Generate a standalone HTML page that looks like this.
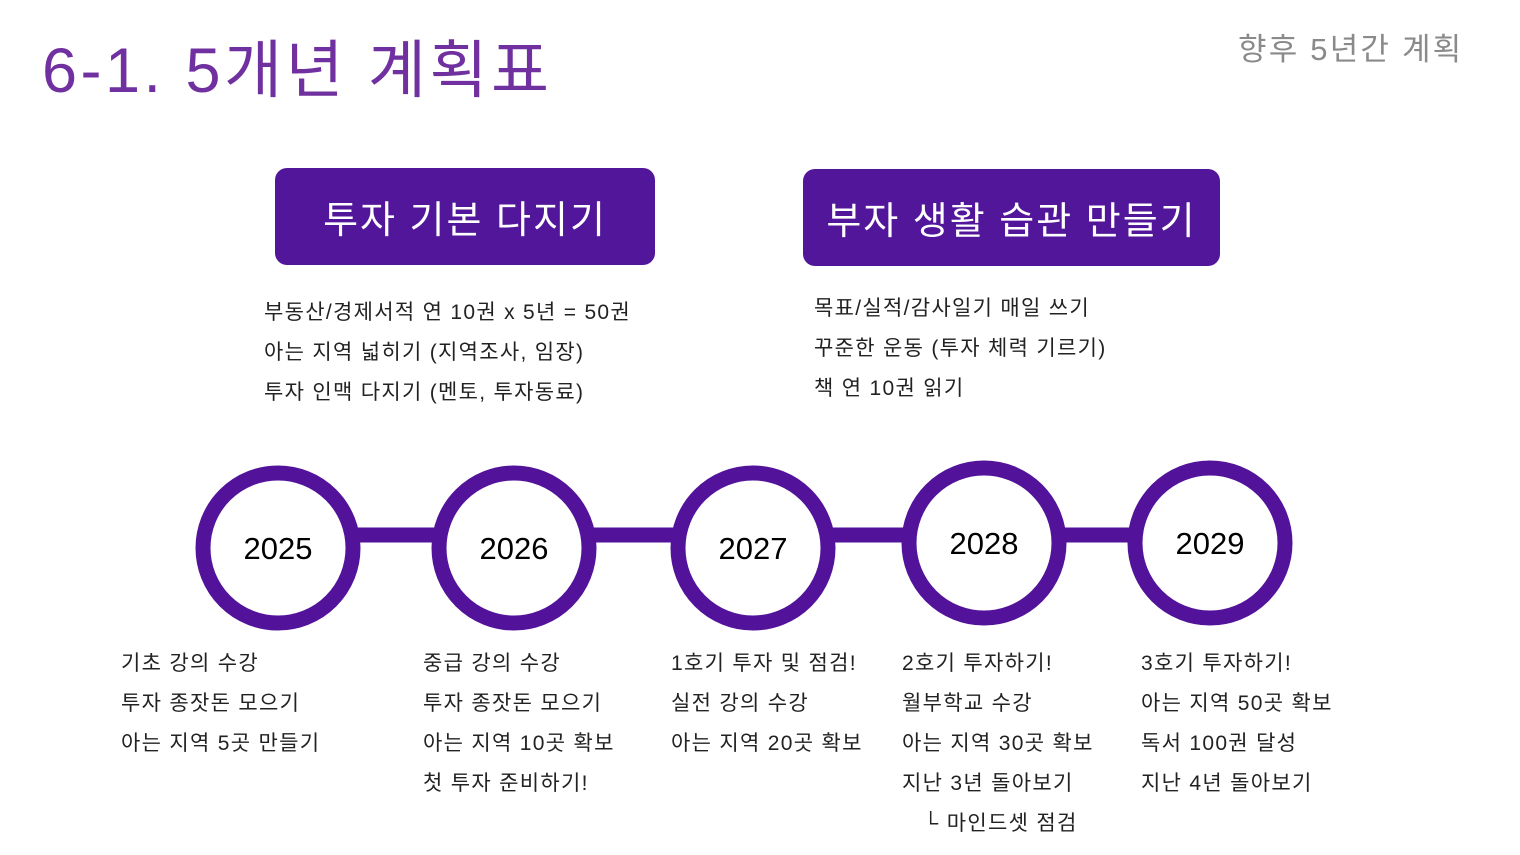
<!DOCTYPE html>
<html><head><meta charset="utf-8"><style>
body{margin:0;width:1520px;height:855px;background:#fff;position:relative;overflow:hidden;font-family:"Liberation Sans","Noto Sans CJK KR",sans-serif;}
.a{position:absolute;white-space:nowrap}
.t{left:42px;top:20px;font-size:63px;color:#7030a0;letter-spacing:3.5px}
.s{left:1238px;top:24px;font-size:31px;color:#8a8a8a;letter-spacing:2.2px}
.box{position:absolute;background:#52169a;color:#fff;border-radius:12px;font-size:38px;display:flex;align-items:center;justify-content:center;letter-spacing:2px}
.l{font-size:21px;line-height:40px;color:#222;letter-spacing:1.3px}
</style></head><body>
<div class="a t">6-1. 5개년 계획표</div>
<div class="a s">향후 5년간 계획</div>
<div class="box" style="left:275px;top:168px;width:380px;height:97px">투자 기본 다지기</div>
<div class="box" style="left:803px;top:169px;width:417px;height:97px">부자 생활 습관 만들기</div>
<div class="a l" style="left:264px;top:293px">부동산/경제서적 연 10권 x 5년 = 50권<br>아는 지역 넓히기 (지역조사, 임장)<br>투자 인맥 다지기 (멘토, 투자동료)</div>
<div class="a l" style="left:814px;top:289px">목표/실적/감사일기 매일 쓰기<br>꾸준한 운동 (투자 체력 기르기)<br>책 연 10권 읽기</div>
<svg class="a" style="left:0;top:0" width="1520" height="855">
<g stroke="#52129a" stroke-width="15" fill="#fff">
<line x1="278" y1="535" x2="1210" y2="535"/>
<circle cx="278" cy="548" r="75"/>
<circle cx="514" cy="548" r="75"/>
<circle cx="753" cy="548" r="75"/>
<circle cx="984" cy="543" r="75"/>
<circle cx="1210" cy="543" r="75"/>
</g>
<g font-family="Liberation Sans" font-size="31" text-anchor="middle" fill="#000">
<text x="278" y="559">2025</text><text x="514" y="559">2026</text><text x="753" y="559">2027</text><text x="984" y="554">2028</text><text x="1210" y="554">2029</text>
</g></svg>
<div class="a l" style="left:121px;top:644px">기초 강의 수강<br>투자 종잣돈 모으기<br>아는 지역 5곳 만들기</div>
<div class="a l" style="left:423px;top:644px">중급 강의 수강<br>투자 종잣돈 모으기<br>아는 지역 10곳 확보<br>첫 투자 준비하기!</div>
<div class="a l" style="left:671px;top:644px">1호기 투자 및 점검!<br>실전 강의 수강<br>아는 지역 20곳 확보</div>
<div class="a l" style="left:902px;top:644px">2호기 투자하기!<br>월부학교 수강<br>아는 지역 30곳 확보<br>지난 3년 돌아보기<br>&nbsp;&nbsp;&nbsp;└ 마인드셋 점검</div>
<div class="a l" style="left:1141px;top:644px">3호기 투자하기!<br>아는 지역 50곳 확보<br>독서 100권 달성<br>지난 4년 돌아보기</div>
</body></html>
